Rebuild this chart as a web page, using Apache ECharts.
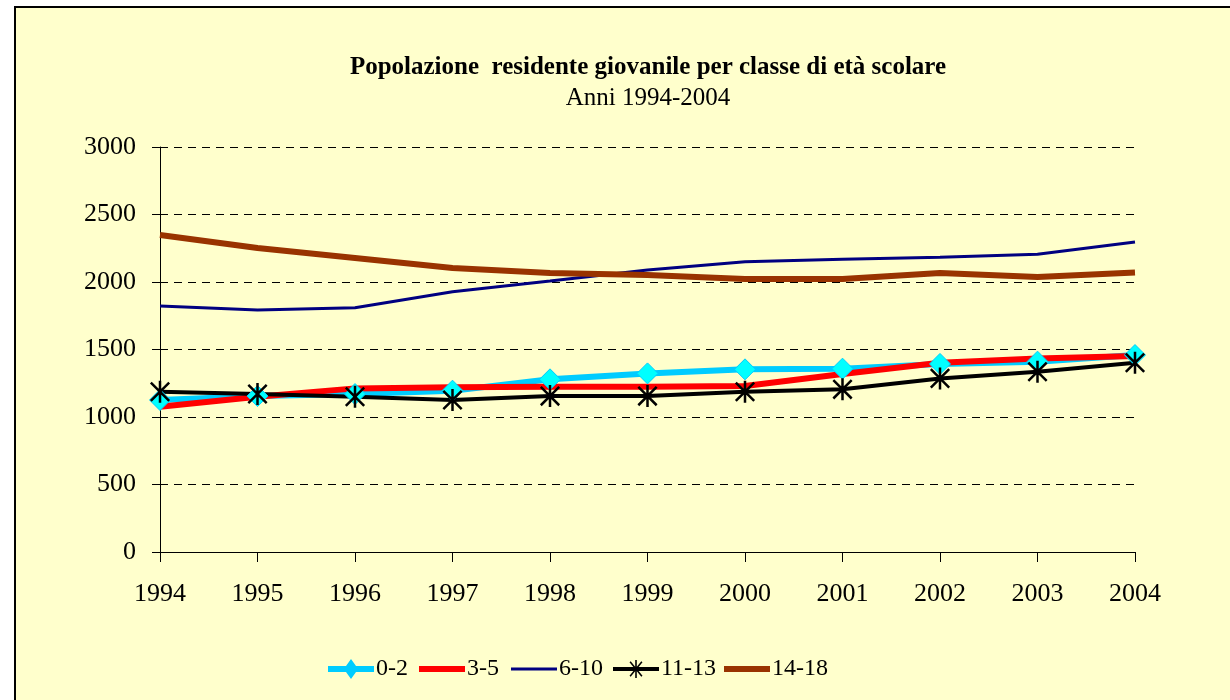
<!DOCTYPE html>
<html>
<head>
<meta charset="utf-8">
<script src="https://cdn.jsdelivr.net/npm/echarts@6/dist/echarts.min.js"></script>
<style>
  html, body { margin: 0; padding: 0; background: #fff; }
  #chart { width: 1230px; height: 700px; }
</style>
</head>
<body>
<div id="chart"></div>
<script>
// anni
const years = ['1994', '1995', '1996', '1997', '1998', '1999', '2000', '2001', '2002', '2003', '2004']
// classi di età
const age0_2   = [1126, 1155, 1170, 1195, 1279, 1323, 1353, 1358, 1393, 1410, 1459]
const age3_5   = [1076, 1150, 1212, 1220, 1224, 1224, 1230, 1318, 1402, 1434, 1452]
const age6_10  = [1822, 1793, 1810, 1928, 2007, 2089, 2150, 2168, 2183, 2205, 2296]
const age11_13 = [1187, 1170, 1150, 1126, 1155, 1155, 1187, 1205, 1286, 1335, 1402]
const age14_18 = [2348, 2252, 2178, 2104, 2067, 2052, 2022, 2022, 2067, 2037, 2070]

const serif = '"Liberation Serif", "Times New Roman", serif'
// asterisco per la serie 11-13
const star = 'path://M0,0L10,10M10,0L0,10M5,-1L5,11'

// icone legenda (box 46x20, i punti M fissano il riquadro)
const iconLine = w => 'path://M0,0M46,20M0,' + (10 - w / 2) + 'h46v' + w + 'h-46z'
const iconDiamond = 'path://M0,0M46,20M0,7h18l5,-7l5,7h18v6h-18l-5,7l-5,-7h-18z'
const iconStar = 'path://M0,0M46,20M0,8h46v4h-46z' +
  'M22.2,1h1.6v18h-1.6z' +
  'M16.5,3.2L17.7,2.2L29.5,16.8L28.3,17.8z' +
  'M28.3,2.2L29.5,3.2L17.7,17.8L16.5,16.8z'

const legendBase = {
  top: 657,
  padding: 0,
  itemWidth: 46,
  itemHeight: 20,
  textStyle: { fontFamily: serif, fontSize: 24, color: '#000', padding: [0, 0, 0, -3] }
}

const chart = echarts.init(document.getElementById('chart'))

const option = {
  backgroundColor: '#fff',
  animation: false,
  graphic: [{
    type: 'rect',
    z: -10,
    shape: { x: 15, y: 7, width: 1230, height: 710 },
    style: { fill: '#FFFFCC', stroke: '#000', lineWidth: 2 }
  }],
  title: {
    text: 'Popolazione  residente giovanile per classe di età scolare',
    subtext: 'Anni 1994-2004',
    left: 643,
    textAlign: 'center',
    top: 50,
    itemGap: 6,
    textStyle: { fontFamily: serif, fontSize: 25, fontWeight: 'bold', color: '#000' },
    subtextStyle: { fontFamily: serif, fontSize: 25, color: '#000' }
  },
  legend: [
    Object.assign({ left: 328, data: [{ name: '0-2', icon: iconDiamond, itemStyle: { color: '#00CCFF', borderWidth: 0 } }] }, legendBase),
    Object.assign({ left: 419, data: [{ name: '3-5', icon: iconLine(6) }] }, legendBase),
    Object.assign({ left: 511, data: [{ name: '6-10', icon: iconLine(3) }] }, legendBase),
    Object.assign({ left: 613, data: [{ name: '11-13', icon: iconStar, itemStyle: { color: '#000', borderWidth: 0 } }] }, legendBase),
    Object.assign({ left: 724, data: [{ name: '14-18', icon: iconLine(6) }] }, legendBase)
  ],
  grid: { left: 160, right: 95, top: 147, bottom: 148 },
  xAxis: {
    type: 'category',
    data: years,
    boundaryGap: false,
    axisLine: { lineStyle: { color: '#000', width: 1 } },
    axisTick: { length: 10, lineStyle: { color: '#000' } },
    axisLabel: { fontFamily: serif, fontSize: 26, color: '#000', margin: 29 }
  },
  yAxis: {
    type: 'value',
    min: 0,
    max: 3000,
    interval: 500,
    axisLine: { show: true, lineStyle: { color: '#000', width: 1 } },
    axisTick: { show: true, length: 8, lineStyle: { color: '#000' } },
    axisLabel: { fontFamily: serif, fontSize: 26, color: '#000', margin: 24, formatter: v => String(v) },
    splitLine: { lineStyle: { color: '#000', type: [8, 6], width: 1 } }
  },
  series: [
    {
      name: '0-2', type: 'line', data: age0_2,
      symbol: 'diamond', symbolSize: 21,
      itemStyle: { color: '#00FFFF', borderColor: '#00CCFF', borderWidth: 1 },
      lineStyle: { color: '#00CCFF', width: 6 }
    },
    {
      name: '3-5', type: 'line', data: age3_5,
      symbol: 'none',
      itemStyle: { color: '#FF0000' },
      lineStyle: { color: '#FF0000', width: 6 }
    },
    {
      name: '6-10', type: 'line', data: age6_10,
      symbol: 'none',
      itemStyle: { color: '#000080' },
      lineStyle: { color: '#000080', width: 3 }
    },
    {
      name: '11-13', type: 'line', data: age11_13,
      symbol: star, symbolSize: 22, symbolKeepAspect: true,
      itemStyle: { color: 'none', borderColor: '#000', borderWidth: 2.5 },
      lineStyle: { color: '#000', width: 4 }
    },
    {
      name: '14-18', type: 'line', data: age14_18,
      symbol: 'none',
      itemStyle: { color: '#993300' },
      lineStyle: { color: '#993300', width: 6 }
    }
  ]
}

chart.setOption(option)
</script>
</body>
</html>
